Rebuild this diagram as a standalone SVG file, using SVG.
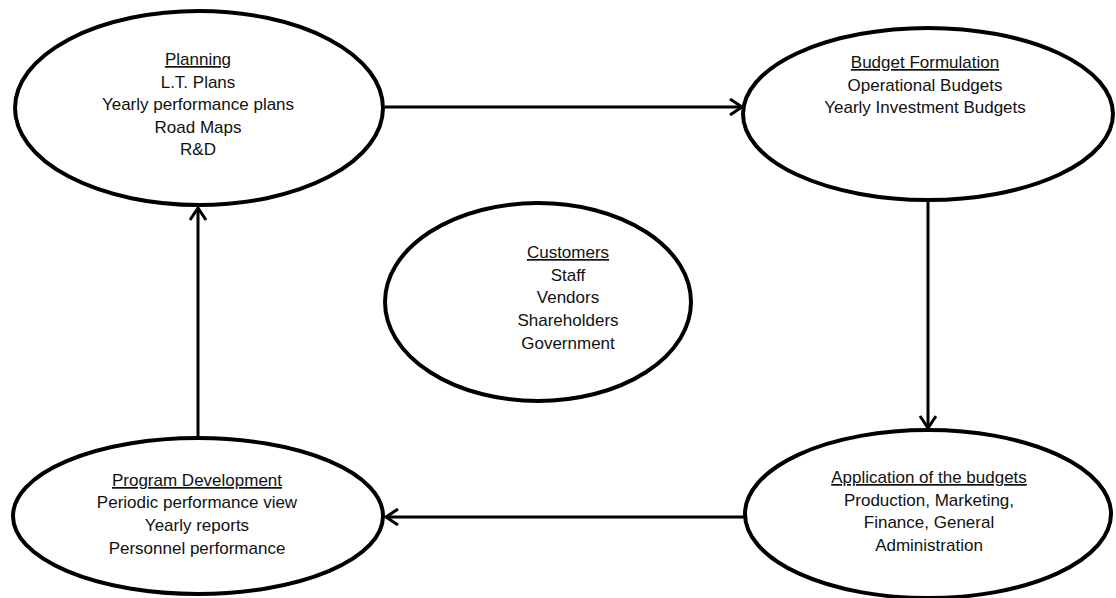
<svg xmlns="http://www.w3.org/2000/svg" width="1116" height="598" viewBox="0 0 1116 598">
  <style>
    .node ellipse { fill: #ffffff; stroke: #000000; stroke-width: 4; }
    .node text { font-family: "Liberation Sans", Arial, sans-serif; font-size: 17px; fill: #111111; text-anchor: middle; }
    .node .title { text-decoration: underline; }
    .edge { stroke: #000000; stroke-width: 3; fill: none; marker-end: url(#arrow); }
  </style>
  <defs>
    <marker id="arrow" markerUnits="userSpaceOnUse" markerWidth="16" markerHeight="20" refX="13" refY="9" orient="auto">
      <path d="M1,1 L13,9 L1,17" fill="none" stroke="#000000" stroke-width="3" stroke-linejoin="miter"/>
    </marker>
  </defs>
  <rect width="1116" height="598" fill="#ffffff"/>

  <g id="connectors">
    <line class="edge" x1="385" y1="107" x2="742" y2="107"/>
    <line class="edge" x1="928" y1="201" x2="928" y2="428"/>
    <line class="edge" x1="745" y1="517" x2="386" y2="517"/>
    <line class="edge" x1="198" y1="438" x2="198" y2="208"/>
  </g>

  <g id="planning" class="node">
    <ellipse cx="199" cy="108" rx="184" ry="97"/>
    <text class="title" x="198" y="65">Planning</text>
    <text x="198" y="88">L.T. Plans</text>
    <text x="198" y="110">Yearly performance plans</text>
    <text x="198" y="133">Road Maps</text>
    <text x="198" y="155">R&amp;D</text>
  </g>

  <g id="budget-formulation" class="node">
    <ellipse cx="928" cy="114" rx="185" ry="86"/>
    <text class="title" x="925" y="68">Budget Formulation</text>
    <text x="925" y="91">Operational Budgets</text>
    <text x="925" y="113">Yearly Investment Budgets</text>
  </g>

  <g id="customers" class="node">
    <ellipse cx="538" cy="302" rx="153" ry="99"/>
    <text class="title" x="568" y="258">Customers</text>
    <text x="568" y="281">Staff</text>
    <text x="568" y="303">Vendors</text>
    <text x="568" y="326">Shareholders</text>
    <text x="568" y="349">Government</text>
  </g>

  <g id="program-development" class="node">
    <ellipse cx="198" cy="516" rx="185" ry="78"/>
    <text class="title" x="197" y="486">Program Development</text>
    <text x="197" y="508">Periodic performance view</text>
    <text x="197" y="531">Yearly reports</text>
    <text x="197" y="554">Personnel performance</text>
  </g>

  <g id="application" class="node">
    <ellipse cx="928" cy="514" rx="183" ry="84"/>
    <text class="title" x="929" y="483">Application of the budgets</text>
    <text x="929" y="506">Production, Marketing,</text>
    <text x="929" y="528">Finance, General</text>
    <text x="929" y="551">Administration</text>
  </g>
</svg>
